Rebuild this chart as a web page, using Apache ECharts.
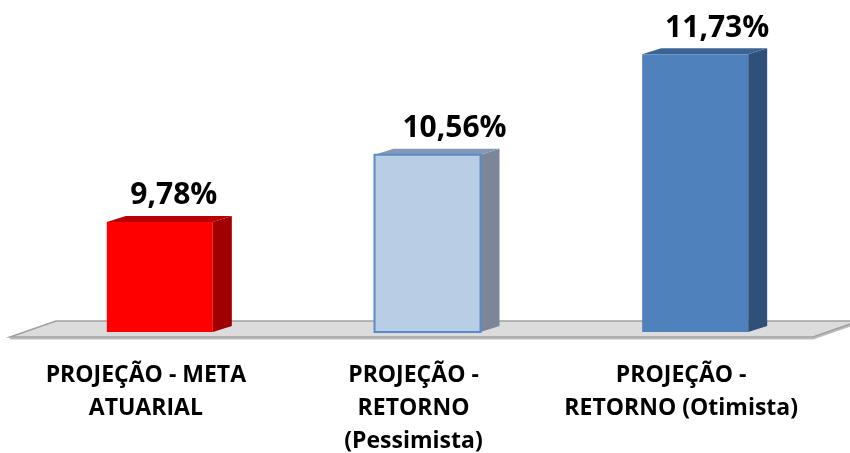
<!DOCTYPE html>
<html><head><meta charset="utf-8">
<script src="https://cdn.jsdelivr.net/npm/echarts@6/dist/echarts.min.js"></script>
<style>html,body{margin:0;padding:0;background:#fff}#c{width:850px;height:453px}</style>
</head><body><div id="c"></div>
<script>
// ---- data ----
const categories = ['PROJEÇÃO - META\nATUARIAL', 'PROJEÇÃO -\nRETORNO\n(Pessimista)', 'PROJEÇÃO -\nRETORNO (Otimista)'];
const values = [9.78, 10.56, 11.73];
const valueLabels = ['9,78%', '10,56%', '11,73%'];
const yMin = 8.5;
const yMax = 12;

// ---- style ----
const COLORS = [
  {front:'#FF0000', side:'#A00000', top:'#B80000', border:'#E00000', bw:0},
  {front:'#B9CDE5', side:'#7B8798', top:'#8499B5', border:'#5B8ACB', bw:2},
  {front:'#4F81BD', side:'#2E5079', top:'#3B6494', border:'#4A7AB3', bw:0}
];
const LABEL_DX = [14, 27, 22];
const DEPTH_X = 19, DEPTH_Y = -6;

function renderFloor(params, api){
  const cs = params.coordSys;
  const L = cs.x, R = cs.x + cs.width, B = cs.y + cs.height;
  const fy = B + 5, by = B - 11, off = 46;
  const fl = L - 16, fr = R - 16;
  return {type:'group', children:[
    {type:'polyline', shape:{points:[[fl, fy+1.5],[fr, fy+1.5],[fr+off, by+1.5]]}, style:{stroke:'#BDBDBD', lineWidth:2, fill:null}},
    {type:'polygon', shape:{points:[[fl,fy],[fr,fy],[fr+off,by],[fl+off,by]]}, style:{fill:'#DCDCDC', stroke:'#A0A0A0', lineWidth:1.5}}
  ]};
}

function renderBar(params, api){
  const i = params.dataIndex;
  const v = api.value(1);
  const top = api.coord([i, v]);
  const base = api.coord([i, yMin]);
  const bw = api.size([1, 0])[0] * 0.396;
  const x0 = top[0] - bw/2, x1 = top[0] + bw/2;
  const yT = top[1], yB = base[1];
  const c = COLORS[i];
  return {type:'group', children:[
    {type:'polygon', shape:{points:[[x1,yB],[x1+DEPTH_X,yB+DEPTH_Y],[x1+DEPTH_X,yT+DEPTH_Y],[x1,yT]]}, style:{fill:c.side}},
    {type:'polygon', shape:{points:[[x0,yT],[x1,yT],[x1+DEPTH_X,yT+DEPTH_Y],[x0+DEPTH_X,yT+DEPTH_Y]]}, style:{fill:c.top}},
    {type:'rect', shape:{x:x0, y:yT, width:bw, height:yB-yT}, style:{fill:c.front, stroke:c.bw ? c.border : null, lineWidth:c.bw}},
    {type:'text', x: top[0] + LABEL_DX[i], y: yT - 26, style:{text: valueLabels[i], fill:'#000', font:'bold 30px "Open Sans"', align:'center', verticalAlign:'middle'}}
  ]};
}

const chart = echarts.init(document.getElementById('c'), null, {renderer:'canvas'});
chart.setOption({
  animation:false,
  backgroundColor:'#fff',
  grid:{left:26, right:21, top:31, bottom:121, containLabel:false, outerBoundsMode:'none'},
  xAxis:{type:'category', data:categories,
    axisLine:{show:false}, axisTick:{show:false}, splitLine:{show:false},
    axisLabel:{interval:0, margin:27, color:'#000', fontFamily:'Open Sans', fontWeight:'bold', fontSize:23, lineHeight:33, padding:[0,28,0,0]}},
  yAxis:{type:'value', min:yMin, max:yMax, show:false},
  series:[
    {type:'custom', z:1, silent:true, clip:false, renderItem:renderFloor, data:[[0, yMin]]},
    {type:'custom', z:2, clip:false, renderItem:renderBar, data: values.map((v,i)=>[i, v])}
  ]
});
</script></body></html>
